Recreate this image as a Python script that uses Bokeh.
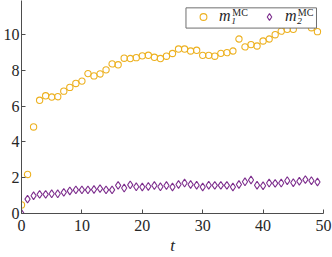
from bokeh.plotting import figure
from bokeh.models import Range1d, FixedTicker, Legend, LegendItem, Label, BoxAnnotation
from bokeh.embed import file_html
from bokeh.resources import INLINE

t = list(range(50))
m1 = [0.48, 2.18, 4.83, 6.32, 6.57, 6.50, 6.52, 6.83, 7.04, 7.26,
      7.39, 7.81, 7.68, 7.79, 8.02, 8.35, 8.30, 8.67, 8.65, 8.70,
      8.80, 8.83, 8.72, 8.65, 8.78, 8.93, 9.18, 9.18, 9.07, 9.11,
      8.83, 8.83, 8.78, 8.94, 8.98, 9.07, 9.74, 9.30, 9.43, 9.35,
      9.63, 9.74, 9.98, 10.18, 10.28, 10.28, 10.60, 10.65, 10.37, 10.15]
m2 = [0.00, 0.80, 0.99, 1.07, 1.07, 1.10, 1.10, 1.18, 1.26, 1.32,
      1.32, 1.32, 1.34, 1.39, 1.32, 1.32, 1.57, 1.42, 1.60, 1.49,
      1.48, 1.51, 1.56, 1.49, 1.56, 1.48, 1.62, 1.70, 1.62, 1.58,
      1.48, 1.58, 1.57, 1.57, 1.57, 1.48, 1.62, 1.77, 1.87, 1.58,
      1.55, 1.70, 1.68, 1.70, 1.83, 1.72, 1.80, 1.89, 1.83, 1.76]
x_ticks = [0, 10, 20, 30, 40, 50]
y_ticks = [0, 2, 4, 6, 8, 10]
labels = ["m\u2081", "m\u2082"]
sup = "MC"

ORANGE = "#EDB120"
PURPLE = "#7E2F8E"
FONT = "Liberation Serif"
AX = "#4d4d4d"
TXT = "#262626"

p = figure(width=332, height=257, output_backend="svg", toolbar_location=None,
           x_range=Range1d(0, 50), y_range=Range1d(0, 11.89),
           min_border_left=20, min_border_right=9, min_border_top=0,
           min_border_bottom=43)
p.styles = {"position": "absolute", "left": "0px", "top": "0px"}
p.outline_line_color = None
p.grid.visible = False
p.background_fill_color = "white"

r1 = p.scatter(t, m1, marker="circle", size=6.3, fill_color=None,
               line_color=ORANGE, line_width=1.1)
r2 = p.scatter(t, m2, marker="diamond", size=7.8, fill_color=None,
               line_color=PURPLE, line_width=1.1)

for ax in (p.xaxis[0], p.yaxis[0]):
    ax.major_tick_in = 4
    ax.major_tick_out = 0
    ax.minor_tick_line_color = None
    ax.axis_line_color = AX
    ax.major_tick_line_color = AX
    ax.major_label_text_font = FONT
    ax.major_label_text_font_size = "16px"
    ax.major_label_text_color = TXT
p.xaxis.ticker = FixedTicker(ticks=x_ticks)
p.yaxis.ticker = FixedTicker(ticks=y_ticks)
p.xaxis.major_label_standoff = 6
p.yaxis.major_label_standoff = 2
p.xaxis.axis_label = "t"
p.xaxis.axis_label_text_font = FONT
p.xaxis.axis_label_text_font_style = "italic"
p.xaxis.axis_label_text_font_size = "17px"
p.xaxis.axis_label_text_color = TXT
p.xaxis.axis_label_standoff = 2

# legend frame (white box with grey border) drawn beneath the legend entries
p.add_layout(BoxAnnotation(left=27.23, right=48.84, bottom=10.35, top=11.48,
                           fill_color="white", fill_alpha=1,
                           line_color="#6f6f6f", line_width=1, line_alpha=1))

# superscripts of the legend labels
for xs in (34.9, 45.74):
    p.add_layout(Label(x=xs, y=11.22, text=sup, text_font=FONT,
                       text_font_size="10px", text_color=TXT,
                       text_baseline="alphabetic", text_align="left"))

legend = Legend(items=[LegendItem(label=labels[0], renderers=[r1]),
                       LegendItem(label=labels[1], renderers=[r2])],
                orientation="horizontal", location="top_right",
                label_text_font=FONT, label_text_font_size="16px",
                label_text_font_style="italic", label_text_color=TXT,
                border_line_color=None, background_fill_alpha=0,
                margin=7, padding=2, spacing=5,
                glyph_width=28, glyph_height=17, label_height=17,
                label_width=31, label_standoff=2)
p.add_layout(legend)

open("out.html", "w").write(file_html(p, INLINE))
